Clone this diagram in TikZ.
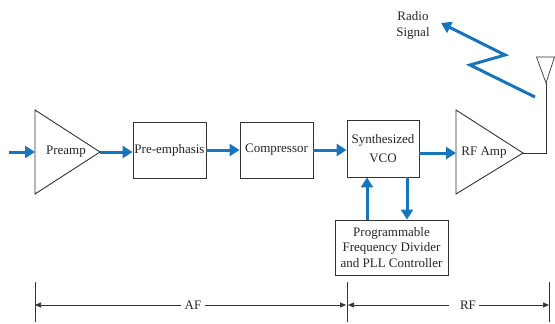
\documentclass[tikz,border=0pt]{standalone}
\usepackage{fontspec}
\setmainfont{Liberation Serif}
\usetikzlibrary{arrows.meta,calc}
\definecolor{sigblue}{RGB}{24,117,187}
\begin{document}
\begin{tikzpicture}[x=1pt,y=-1pt,
  blk/.style={draw=black!80,line width=0.9pt,inner sep=0pt,fill=white},
  tri/.style={draw=black!80,line width=0.9pt,line join=miter},
  sig/.style={draw=sigblue,line width=3pt,-{Triangle[length=10pt,width=12pt]}},
  lbl/.style={font=\fontsize{13}{15.5}\selectfont,align=center,text=black!85},
  dimline/.style={line width=0.6pt,draw=black!80},
  dimarr/.style={dimline,-{Triangle[length=6pt,width=5pt]}}]
\useasboundingbox (0,0) rectangle (555,324);

% Preamp triangle
\draw[tri] (35,110) -- (100,152) -- (35,194) -- cycle;
\coordinate (pa-in) at (35,152);
\coordinate (pa-out) at (100,152);
\coordinate (src) at (9,152);
\node[lbl] (pa) at (66,152) {Preamp};

% Blocks
\node[blk,lbl,minimum width=73pt,minimum height=56pt] (pre) at (169.5,150) {Pre-emphasis};
\node[blk,lbl,minimum width=73pt,minimum height=56pt] (comp) at (276.5,150) {Compressor};
\node[blk,lbl,minimum width=72pt,minimum height=57pt] (vco) at (383,148.5) {Synthesized\\[3pt]VCO};
\node[blk,lbl,minimum width=113pt,minimum height=55pt] (prog) at (391.5,247.5) {Programmable\\Frequency Divider\\and PLL Controller};

% RF amp triangle
\draw[tri] (456,110) -- (523,153) -- (456,194) -- cycle;
\coordinate (rf-in) at (456,153);
\coordinate (rf-out) at (523,153);
\node[lbl] (rfa) at (484,153) {RF Amp};

% Antenna
\coordinate (ant-base) at (546,153);
\coordinate (ant-tip) at (546,83);
\draw[tri,line width=0.7pt] (rf-out) -- (ant-base) -- (ant-tip);
\draw[tri,line width=0.7pt] (ant-tip) -- (536.5,57) -- (554.5,57) -- cycle;

% Signal arrows
\draw[sig] (src) -- (pa-in);
\draw[sig] (pa-out) -- (pa-out -| pre.west);
\draw[sig] (pre.east) -- (comp.west);
\draw[sig] (comp.east) -- (comp.east -| vco.west);
\draw[sig] (vco.east |- rf-in) -- (rf-in);
\coordinate (up) at (367,0);
\coordinate (down) at (407,0);
\draw[sig] (prog.north -| up) -- (vco.south -| up);
\draw[sig] (vco.south -| down) -- (prog.north -| down);

% Radio signal
\node[lbl] (radio) at (413,25.5) {Radio\\Signal};
\coordinate (z1) at (535,97);
\coordinate (z2) at (470,65);
\coordinate (z3) at (505,55);
\coordinate (z4) at (441,23);
\draw[sig] (z1) -- (z2) -- (z3) -- (z4);

% Dimension lines
\coordinate (t1) at (35,305);
\coordinate (t2) at (347,305);
\coordinate (t3) at (549,305);
\draw[dimline] (35,282) -- (35,322);
\draw[dimline] (347,282) -- (347,322);
\draw[dimline] (549,282) -- (549,322);
\node[lbl,inner sep=3pt] (af) at (193,305) {AF};
\node[lbl,inner sep=3pt] (rf) at (468,305) {RF};
\draw[dimarr] (af.west) -- (t1);
\draw[dimarr] (af.east) -- ($(t2)+(-1,0)$);
\draw[dimarr] ($(rf.west)+(-8,0)$) -- ($(t2)+(1,0)$);
\draw[dimarr] (rf.east) -- (t3);
\end{tikzpicture}
\end{document}
